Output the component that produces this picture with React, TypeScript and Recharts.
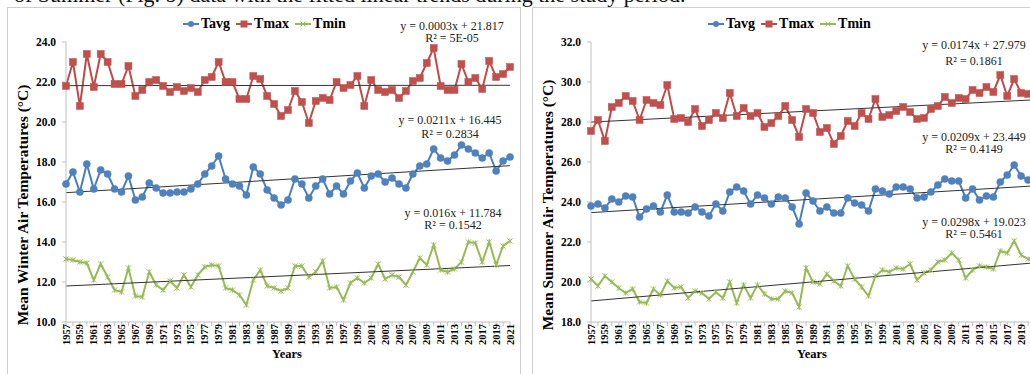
import React from 'react';
import { LineChart, Line, XAxis, YAxis, ReferenceLine } from 'recharts';

const years = [
  1957, 1958, 1959, 1960, 1961, 1962, 1963, 1964, 1965, 1966,
  1967, 1968, 1969, 1970, 1971, 1972, 1973, 1974, 1975, 1976,
  1977, 1978, 1979, 1980, 1981, 1982, 1983, 1984, 1985, 1986,
  1987, 1988, 1989, 1990, 1991, 1992, 1993, 1994, 1995, 1996,
  1997, 1998, 1999, 2000, 2001, 2002, 2003, 2004, 2005, 2006,
  2007, 2008, 2009, 2010, 2011, 2012, 2013, 2014, 2015, 2016,
  2017, 2018, 2019, 2020, 2021,
];

const winterTavg = [
  16.9, 17.5, 16.5, 17.9, 16.65, 17.6, 17.4, 16.65, 16.5, 17.3,
  16.1, 16.25, 16.95, 16.7, 16.45, 16.45, 16.5, 16.5, 16.65, 16.9,
  17.4, 17.8, 18.3, 17.15, 16.9, 16.8, 16.35, 17.75, 17.4, 16.6,
  16.2, 15.85, 16.1, 17.15, 16.9, 16.2, 16.8, 17.15, 16.4, 16.8,
  16.4, 17.05, 17.45, 16.7, 17.3, 17.4, 17.0, 17.2, 16.9, 16.7,
  17.4, 17.8, 17.9, 18.65, 18.2, 18.05, 18.35, 18.85, 18.65, 18.45,
  18.2, 18.45, 17.55, 18.05, 18.25,
];
const winterTmax = [
  21.8, 23.0, 20.8, 23.4, 21.75, 23.4, 23.0, 21.9, 21.9, 22.8,
  21.3, 21.6, 22.0, 22.1, 21.8, 21.5, 21.75, 21.55, 21.7, 21.5,
  22.1, 22.25, 23.0, 22.0, 22.0, 21.15, 21.15, 22.3, 22.15, 21.3,
  20.9, 20.3, 20.6, 21.55, 21.0, 19.95, 21.05, 21.2, 21.1, 22.0,
  21.7, 21.85, 22.3, 20.8, 22.1, 21.6, 21.5, 21.6, 21.2, 21.55,
  22.05, 22.2, 22.95, 23.7, 21.8, 21.6, 21.6, 22.9, 22.0, 22.2,
  21.65, 23.05, 22.25, 22.4, 22.75,
];
const winterTmin = [
  13.15, 13.1, 13.0, 12.95, 12.1, 12.9, 12.25, 11.6, 11.5, 12.7,
  11.3, 11.25, 12.5, 11.85, 11.6, 12.05, 11.7, 12.35, 11.75, 12.35,
  12.75, 12.85, 12.8, 11.7, 11.6, 11.35, 10.85, 12.1, 12.6, 11.8,
  11.7, 11.55, 11.7, 12.8, 12.8, 12.25, 12.5, 13.05, 11.7, 11.75,
  11.1, 11.95, 12.2, 11.95, 12.2, 12.9, 12.15, 12.35, 12.25, 11.85,
  12.5, 13.2, 12.85, 13.85, 12.6, 12.5, 12.65, 13.0, 14.0, 13.95,
  13.0, 14.0, 12.85, 13.8, 14.05,
];

const summerTavg = [
  23.8, 23.9, 23.7, 24.15, 24.0, 24.3, 24.25, 23.25, 23.65, 23.8,
  23.5, 24.35, 23.5, 23.5, 23.45, 23.75, 23.5, 23.3, 23.9, 23.55,
  24.5, 24.75, 24.55, 23.9, 24.35, 24.2, 23.9, 24.25, 24.2, 23.75,
  22.9, 24.45, 24.05, 23.55, 23.75, 23.45, 23.45, 24.2, 23.95, 23.85,
  23.55, 24.65, 24.55, 24.4, 24.75, 24.75, 24.65, 24.2, 24.25, 24.5,
  24.85, 25.15, 25.05, 25.05, 24.2, 24.65, 24.1, 24.3, 24.25, 25.0,
  25.35, 25.85, 25.3, 25.1, 25.4,
];
const summerTmax = [
  27.55, 28.1, 27.05, 28.75, 28.95, 29.3, 29.05, 28.1, 29.1, 28.95,
  28.85, 29.85, 28.15, 28.2, 28.0, 28.65, 27.8, 28.1, 28.45, 28.2,
  29.45, 28.3, 28.7, 28.3, 28.45, 27.75, 27.95, 28.3, 28.8, 28.1,
  27.25, 28.65, 28.45, 27.5, 27.7, 26.9, 27.3, 28.05, 27.8, 28.45,
  28.15, 29.15, 28.25, 28.35, 28.55, 28.75, 28.5, 28.15, 28.2, 28.65,
  28.8, 29.25, 28.95, 29.2, 29.15, 29.6, 29.45, 29.75, 29.5, 30.35,
  29.3, 30.15, 29.45, 29.4, 29.9,
];
const summerTmin = [
  20.15, 19.8, 20.3, 20.0, 19.7, 19.45, 19.65, 19.0, 18.95, 19.65,
  19.35, 20.05, 19.7, 19.75, 19.2, 19.55, 19.45, 19.15, 19.5, 19.2,
  20.0, 18.95, 19.85, 19.2, 19.85, 19.4, 19.15, 19.15, 19.55, 19.45,
  18.75, 20.7, 20.0, 19.9, 20.4, 20.05, 19.8, 20.8, 20.15, 19.75,
  19.3, 20.3, 20.6, 20.5, 20.7, 20.65, 20.9, 20.1, 20.45, 20.6,
  21.0, 21.1, 21.45, 21.1, 20.2, 20.6, 20.8, 20.75, 20.65, 21.55,
  21.45, 22.05, 21.35, 21.15, 21.2,
];

// trend line coefficients [slope, intercept] per series (x = 1..65), as printed on the chart
const winterTrend = { tavg: [0.0211, 16.445], tmax: [0.0003, 21.817], tmin: [0.016, 11.784] };
const summerTrend = { tavg: [0.0209, 23.449], tmax: [0.0174, 27.979], tmin: [0.0298, 19.023] };

const winterTicks = [10, 12, 14, 16, 18, 20, 22, 24];
const summerTicks = [18, 20, 22, 24, 26, 28, 30, 32];

const winterLabels = [
  { lines: ['y = 0.0003x + 21.817', 'R² = 5E-05'], cx: 444, ys: [17.7, 30.3] },
  { lines: ['y = 0.0211x + 16.445', 'R² = 0.2834'], cx: 442, ys: [112, 126] },
  { lines: ['y = 0.016x + 11.784', 'R² = 0.1542'], cx: 445, ys: [204.7, 217] },
];
const summerLabels = [
  { lines: ['y = 0.0174x + 27.979', 'R² = 0.1861'], cx: 441, ys: [37, 52.7] },
  { lines: ['y = 0.0209x + 23.449', 'R² = 0.4149'], cx: 441, ys: [128.7, 141.3] },
  { lines: ['y = 0.0298x + 19.023', 'R² = 0.5461'], cx: 441, ys: [213.7, 226] },
];

const SERIF = '"Liberation Serif", "Times New Roman", serif';
const C_AVG = '#4A7EBB';
const C_MAX = '#BE4B48';
const C_MIN = '#98B954';
const AXIS = '#BFBFBF';

const CircleDot = (p: any) => {
  const { cx, cy } = p;
  if (cx == null || cy == null) return null;
  return <circle cx={cx} cy={cy} r={3.6} fill="#4F81BD" stroke="#4F81BD" strokeWidth={0.5} />;
};
const SquareDot = (p: any) => {
  const { cx, cy } = p;
  if (cx == null || cy == null) return null;
  return <rect x={cx - 3.5} y={cy - 3.5} width={7} height={7} fill="#C0504D" stroke="#C0504D" strokeWidth={0.5} />;
};
const StarDot = (p: any) => {
  const { cx, cy } = p;
  if (cx == null || cy == null) return null;
  const s = 2.6;
  return (
    <g stroke="#9BBB59" strokeWidth={1}>
      <line x1={cx - s} y1={cy - s} x2={cx + s} y2={cy + s} />
      <line x1={cx - s} y1={cy + s} x2={cx + s} y2={cy - s} />
      <line x1={cx} y1={cy - s} x2={cx} y2={cy + s} />
    </g>
  );
};

const XTick = (p: any) => {
  const { x, y, payload } = p;
  const v = payload.value;
  if ((v - 1957) % 2 !== 0) return <g />;
  return (
    <text
      transform={`translate(${x},${y - 2}) rotate(-90)`}
      textAnchor="end"
      dominantBaseline="central"
      fontFamily={SERIF}
      fontWeight="bold"
      fontSize={10.5}
      fill="#000"
    >
      {v}
    </text>
  );
};

const LegendItem = ({ kind, label }: { kind: string; label: string }) => (
  <div style={{ display: 'flex', alignItems: 'center', marginRight: 6 }}>
    <svg width={16} height={10} style={{ marginRight: 2 }}>
      {kind === 'avg' && (
        <g>
          <line x1={0} y1={5} x2={16} y2={5} stroke={C_AVG} strokeWidth={2} />
          <circle cx={8} cy={5} r={3} fill="#4F81BD" />
        </g>
      )}
      {kind === 'max' && (
        <g>
          <line x1={0} y1={5} x2={16} y2={5} stroke={C_MAX} strokeWidth={2} />
          <rect x={4.5} y={1.5} width={7} height={7} fill="#C0504D" />
        </g>
      )}
      {kind === 'min' && (
        <g stroke={C_MIN}>
          <line x1={0} y1={5} x2={16} y2={5} strokeWidth={2} />
          <line x1={5.5} y1={2.5} x2={10.5} y2={7.5} strokeWidth={1} />
          <line x1={5.5} y1={7.5} x2={10.5} y2={2.5} strokeWidth={1} />
        </g>
      )}
    </svg>
    <span style={{ fontFamily: SERIF, fontWeight: 'bold', fontSize: 14, color: '#000' }}>{label}</span>
  </div>
);

type PanelProps = {
  left: number;
  tavg: number[];
  tmax: number[];
  tmin: number[];
  trend: { tavg: number[]; tmax: number[]; tmin: number[] };
  ticks: number[];
  title: string;
  labels: { lines: string[]; cx: number; ys: number[] }[];
};

const Panel = ({ left, tavg, tmax, tmin, trend, ticks, title, labels }: PanelProps) => {
  const data = years.map((yr, i) => ({ year: yr, tavg: tavg[i], tmax: tmax[i], tmin: tmin[i] }));
  const n = years.length;
  const seg = (c: number[]) => [
    { x: years[0], y: c[0] * 1 + c[1] },
    { x: years[n - 1], y: c[0] * n + c[1] },
  ];
  return (
    <div
      style={{
        position: 'absolute',
        left,
        top: 7,
        width: 512,
        height: 380,
        border: '1px solid #CFCFCF',
        background: '#fff',
      }}
    >
      <div style={{ position: 'absolute', left: 0, top: 0 }}>
        <LineChart
          width={512}
          height={366}
          data={data}
          margin={{ top: 34, right: 10, bottom: 12, left: 18 }}
        >
          <XAxis
            dataKey="year"
            type="number"
            domain={[years[0], years[n - 1]]}
            ticks={years}
            interval={0}
            tick={<XTick />}
            tickSize={4}
            tickMargin={0}
            height={40}
            axisLine={{ stroke: AXIS }}
            tickLine={{ stroke: AXIS }}
          />
          <YAxis
            type="number"
            domain={[ticks[0], ticks[ticks.length - 1]]}
            ticks={ticks}
            interval={0}
            width={40}
            tickSize={4}
            tickMargin={6}
            tickFormatter={(v: number) => v.toFixed(1)}
            tick={{ fontFamily: SERIF, fontWeight: 'bold', fontSize: 11.5, fill: '#000' }}
            axisLine={{ stroke: AXIS }}
            tickLine={{ stroke: AXIS }}
          />
          <Line type="linear" dataKey="tmax" stroke={C_MAX} strokeWidth={2} dot={<SquareDot />} isAnimationActive={false} />
          <Line type="linear" dataKey="tavg" stroke={C_AVG} strokeWidth={2} dot={<CircleDot />} isAnimationActive={false} />
          <Line type="linear" dataKey="tmin" stroke={C_MIN} strokeWidth={2} dot={<StarDot />} isAnimationActive={false} />
          <ReferenceLine segment={seg(trend.tmax)} stroke="#333" strokeWidth={1} ifOverflow="visible" />
          <ReferenceLine segment={seg(trend.tavg)} stroke="#333" strokeWidth={1} ifOverflow="visible" />
          <ReferenceLine segment={seg(trend.tmin)} stroke="#333" strokeWidth={1} ifOverflow="visible" />
        </LineChart>
      </div>
      <div style={{ position: 'absolute', left: 175, top: 8, display: 'flex', alignItems: 'center', height: 16 }}>
        <LegendItem kind="avg" label="Tavg" />
        <LegendItem kind="max" label="Tmax" />
        <LegendItem kind="min" label="Tmin" />
      </div>
      {labels.map((lb, i) =>
        lb.lines.map((t, j) => (
          <div
            key={`${i}-${j}`}
            style={{
              position: 'absolute',
              left: lb.cx - 80,
              top: lb.ys[j] - 7,
              width: 160,
              textAlign: 'center',
              fontFamily: SERIF,
              fontSize: 12,
              lineHeight: '14px',
              color: '#222',
              whiteSpace: 'nowrap',
            }}
          >
            {t}
          </div>
        ))
      )}
      <div
        style={{
          position: 'absolute',
          left: 15,
          top: 197,
          transform: 'translate(-50%, -50%) rotate(-90deg)',
          whiteSpace: 'nowrap',
          fontFamily: SERIF,
          fontWeight: 'bold',
          fontSize: 15.5,
          lineHeight: '18px',
          color: '#000',
        }}
      >
        {title}
      </div>
      <div
        style={{
          position: 'absolute',
          left: 279,
          top: 346,
          transform: 'translate(-50%, -50%)',
          whiteSpace: 'nowrap',
          fontFamily: SERIF,
          fontWeight: 'bold',
          fontSize: 12.5,
          lineHeight: '14px',
          color: '#000',
        }}
      >
        Years
      </div>
    </div>
  );
};

export default function App() {
  return (
    <div
      style={{
        position: 'absolute',
        left: 0,
        top: 0,
        width: 1030,
        height: 374,
        overflow: 'hidden',
        background: '#fff',
      }}
    >
      <div
        style={{
          position: 'absolute',
          left: 14,
          top: -16,
          whiteSpace: 'nowrap',
          fontFamily: SERIF,
          fontSize: 22,
          lineHeight: '22px',
          color: '#111',
        }}
      >
        of Summer (Fig. b) data with the fitted linear trends during the study period.
      </div>
      <Panel
        left={7}
        tavg={winterTavg}
        tmax={winterTmax}
        tmin={winterTmin}
        trend={winterTrend}
        ticks={winterTicks}
        title="Mean Winter Air Temperatures (°C)"
        labels={winterLabels}
      />
      <Panel
        left={532}
        tavg={summerTavg}
        tmax={summerTmax}
        tmin={summerTmin}
        trend={summerTrend}
        ticks={summerTicks}
        title="Mean Summer Air Temperatures (°C)"
        labels={summerLabels}
      />
    </div>
  );
}
